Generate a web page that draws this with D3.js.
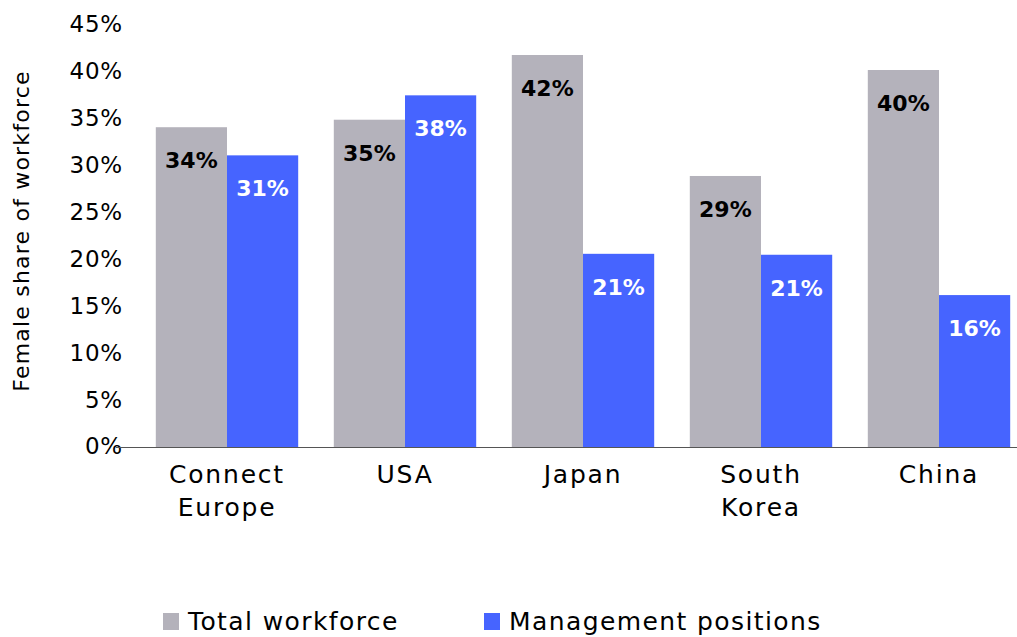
<!DOCTYPE html>
<html>
<head>
<meta charset="utf-8">
<script src="https://cdn.jsdelivr.net/npm/d3@7"></script>
<style>
  html, body { margin: 0; padding: 0; background: #fff; }
  svg { display: block; font-family: "DejaVu Sans", sans-serif; }
</style>
</head>
<body>
<svg id="chart" width="1017" height="637"></svg>
<script>
const categories = [["Connect", "Europe"], ["USA"], ["Japan"], ["South", "Korea"], ["China"]];
const totalWorkforce = [34.1, 34.9, 41.8, 28.9, 40.2];
const managementPositions = [31.1, 37.5, 20.6, 20.5, 16.2];
const seriesNames = ["Total workforce", "Management positions"];
const yTicks = [0, 5, 10, 15, 20, 25, 30, 35, 40, 45];

const colors = ["#b4b2bb", "#4664ff"];
const labelColors = ["#000000", "#ffffff"];
const svg = d3.select("#chart");

const keys = categories.map(c => c.join(" "));
const x = d3.scaleBand().domain(keys).range([138, 1028]).paddingInner(0.2).paddingOuter(0.1);
const x1 = d3.scaleBand().domain(seriesNames).range([0, x.bandwidth()]);
const y = d3.scaleLinear().domain([0, 45]).range([447, 25]);

// y axis labels
const yAxis = d3.axisLeft(y).tickValues(yTicks).tickFormat(d => d + "%").tickSize(0).tickPadding(0);
const gy = svg.append("g").attr("transform", "translate(123,0)").call(yAxis);
gy.select(".domain").remove();
gy.selectAll("text").attr("font-size", 23).attr("fill", "#000")
  .attr("font-family", "'DejaVu Sans', sans-serif").attr("letter-spacing", 0.8).attr("dy", "0.3em");

// y title
svg.append("text")
  .attr("transform", "translate(29,231) rotate(-90)")
  .attr("text-anchor", "middle")
  .attr("font-size", 22)
  .attr("letter-spacing", 1.2)
  .attr("fill", "#000")
  .text("Female share of workforce");

const data = keys.map((k, i) => ({ key: k, values: [totalWorkforce[i], managementPositions[i]] }));

const groups = svg.append("g").selectAll("g").data(data).join("g")
  .attr("transform", d => `translate(${x(d.key)},0)`);

groups.selectAll("rect").data(d => d.values.map((v, j) => ({ v, j }))).join("rect")
  .attr("x", d => x1(seriesNames[d.j]))
  .attr("y", d => y(d.v))
  .attr("width", x1.bandwidth())
  .attr("height", d => y(0) - y(d.v))
  .attr("fill", d => colors[d.j]);

groups.selectAll("text.val").data(d => d.values.map((v, j) => ({ v, j }))).join("text")
  .attr("class", "val")
  .attr("x", d => x1(seriesNames[d.j]) + x1.bandwidth() / 2)
  .attr("y", d => y(d.v) + 41)
  .attr("text-anchor", "middle")
  .attr("font-size", 22)
  .attr("font-weight", 700)
  .attr("fill", d => labelColors[d.j])
  .text(d => Math.round(d.v) + "%");

// x axis line
svg.append("line")
  .attr("x1", 116).attr("x2", 1017)
  .attr("y1", y(0) + 0.5).attr("y2", y(0) + 0.5)
  .attr("stroke", "#555").attr("stroke-width", 1.2);

// x category labels
const xl = svg.append("g").selectAll("text").data(categories).join("text")
  .attr("x", (d, i) => x(keys[i]) + x.bandwidth() / 2)
  .attr("y", 483)
  .attr("text-anchor", "middle")
  .attr("font-size", 25)
  .attr("letter-spacing", 1.8)
  .attr("fill", "#000");
xl.selectAll("tspan").data(d => d).join("tspan")
  .attr("x", function() { return d3.select(this.parentNode).attr("x"); })
  .attr("dy", (d, i) => i === 0 ? 0 : 33)
  .text(d => d);

// legend
const legendX = [163, 484];
const lg = svg.append("g").selectAll("g").data(seriesNames).join("g")
  .attr("transform", (d, i) => `translate(${legendX[i]},613)`);
lg.append("rect").attr("width", 16).attr("height", 17).attr("fill", (d, i) => colors[i]);
lg.append("text").attr("x", 25).attr("y", 17).attr("font-size", 25).attr("letter-spacing", 1.4).attr("fill", "#000").text(d => d);
</script>
</body>
</html>
